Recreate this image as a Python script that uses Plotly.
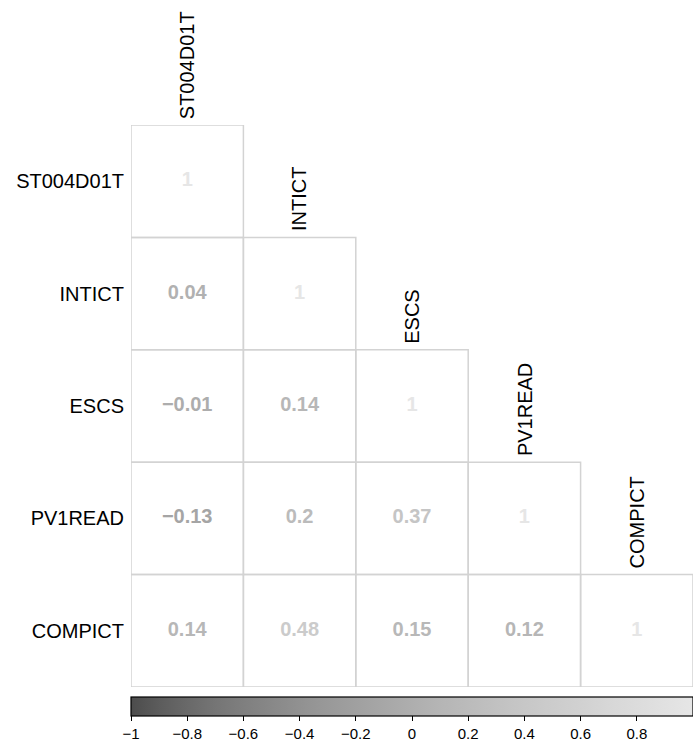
import plotly.graph_objects as go

variables = ["ST004D01T", "INTICT", "ESCS", "PV1READ", "COMPICT"]
# lower-triangular correlation matrix (row i, col j, j <= i)
corr = [
    [1.00],
    [0.04, 1.00],
    [-0.01, 0.14, 1.00],
    [-0.13, 0.20, 0.37, 1.00],
    [0.14, 0.48, 0.15, 0.12, 1.00],
]
value_labels = [
    ["1"],
    ["0.04", "1"],
    ["\u22120.01", "0.14", "1"],
    ["\u22120.13", "0.2", "0.37", "1"],
    ["0.14", "0.48", "0.15", "0.12", "1"],
]
cbar_ticks = [-1, -0.8, -0.6, -0.4, -0.2, 0, 0.2, 0.4, 0.6, 0.8, 1]

FONT = "Liberation Sans, Arial, Helvetica, sans-serif"


def gray_level(r, start=0.3, end=0.9, gamma=2.2):
    v = (r + 1) / 2
    lv = (start ** gamma + v * (end ** gamma - start ** gamma)) ** (1 / gamma)
    g = int(round(lv * 255))
    return f"rgb({g},{g},{g})"


n = len(variables)
colorscale = [[k / 20, gray_level(-1 + 2 * k / 20)] for k in range(21)]

# cell borders
bx, by = [], []
for i in range(n):
    for j in range(i + 1):
        bx += [j - 0.5, j + 0.5, j + 0.5, j - 0.5, j - 0.5, None]
        by += [i - 0.5, i - 0.5, i + 0.5, i + 0.5, i - 0.5, None]

tx, ty, tt, tc, vals = [], [], [], [], []
for i in range(n):
    for j in range(i + 1):
        tx.append(j)
        ty.append(i)
        tt.append(value_labels[i][j])
        tc.append(gray_level(corr[i][j]))
        vals.append(corr[i][j])

fig = go.Figure()
fig.add_trace(go.Scatter(
    x=bx, y=by, mode="lines",
    line=dict(color="#d3d3d3", width=1.5),
    hoverinfo="skip", showlegend=False,
))
fig.add_trace(go.Scatter(
    x=tx, y=ty, mode="markers+text", text=tt,
    textposition="middle center",
    textfont=dict(family=FONT, size=20, color=tc, weight="bold"),
    marker=dict(size=1, opacity=0, color=vals, colorscale=colorscale,
                cmin=-1, cmax=1, showscale=True,
                colorbar=dict(
                    orientation="h", x=0, xanchor="left", y=-10 / 562,
                    yanchor="top", len=1, lenmode="fraction", thickness=19,
                    xpad=0, ypad=0, outlinecolor="black", outlinewidth=1.2,
                    tickmode="array", tickvals=cbar_ticks,
                    ticktext=[("\u2212" if t < 0 else "") + f"{abs(t):g}" for t in cbar_ticks],
                    ticks="outside", ticklen=5, tickcolor="black",
                    tickfont=dict(family=FONT, size=15, color="black"),
                )),
    hoverinfo="skip", showlegend=False,
))

for i, name in enumerate(variables):
    fig.add_annotation(
        x=i, y=i - 0.5, xref="x", yref="y", text=name, textangle=-90,
        showarrow=False, xanchor="center", yanchor="bottom", yshift=4,
        font=dict(family=FONT, size=20, color="black"),
    )

fig.update_xaxes(range=[-0.5, n - 0.5], showgrid=False, zeroline=False,
                 showticklabels=False, fixedrange=True)
fig.update_yaxes(range=[n - 0.5, -0.5], showgrid=False, zeroline=False,
                 tickmode="array", tickvals=list(range(n)), ticktext=variables,
                 tickfont=dict(family=FONT, size=20, color="black"),
                 ticks="", ticklabelstandoff=6, fixedrange=True)
fig.update_layout(
    width=693, height=747,
    margin=dict(l=131, r=0, t=125, b=60),
    plot_bgcolor="white", paper_bgcolor="white",
)
fig.write_html(
    "out.html",
    config={"displayModeBar": False},
    post_script="document.body.style.margin='0';document.body.style.overflow='hidden';",
)
